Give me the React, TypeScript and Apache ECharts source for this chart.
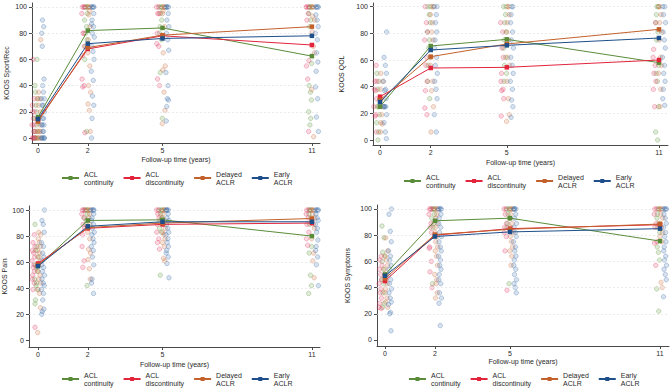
import { useEffect, useRef } from "react";
import * as echarts from "echarts";

// Follow-up time points (years)
const TIMES = [0, 2, 5, 11];
const Y_TICKS = [0, 20, 40, 60, 80, 100];

// Groups: ACL continuity, ACL discontinuity, Delayed ACLR, Early ACLR
const GROUPS = ["ACL\ncontinuity", "ACL\ndiscontinuity", "Delayed\nACLR", "Early\nACLR"];
const LINE_COLORS = ["#5a8c3a", "#e2243c", "#c2612c", "#1f4f8a"];
const DOT_RGB = ["96,150,60", "226,60,100", "204,110,66", "58,110,170"];
// horizontal dodge of each group's dots around the time point, plus a small fixed spread
const GROUP_DODGE = [-0.07, -0.18, 0.05, 0.2];
const SPREAD = [-0.05, 0.03, -0.02, 0.06, -0.04, 0.01, 0.05, -0.06, 0.02, -0.01, 0.04, -0.03];

// ---- KOOS Sport/Rec ----
const SPORT_MEAN_CONT = [16, 82, 84, 62.5];
const SPORT_MEAN_DISC = [13.5, 68, 78, 71];
const SPORT_MEAN_DELAY = [12.5, 69, 78.5, 85];
const SPORT_MEAN_EARLY = [14.5, 72, 76, 78];
const SPORT_PTS_CONT = [
  [0, 0, 0, 5, 5, 10, 15, 15, 20, 25, 30, 35, 40, 60],
  [100, 100, 100, 95, 90, 85, 80, 75, 70, 60, 5],
  [100, 100, 100, 95, 90, 85, 80, 75, 50, 15],
  [100, 100, 100, 95, 90, 85, 57, 40, 35, 29, 20, 15, 10],
];
const SPORT_PTS_DISC = [
  [0, 0, 0, 0, 5, 5, 10, 10, 15, 20, 20, 25, 30, 60],
  [100, 100, 100, 95, 80, 80, 70, 63, 45, 40, 39, 4],
  [100, 100, 95, 95, 80, 72, 70, 45, 40],
  [100, 100, 100, 95, 90, 59, 55, 45, 5],
];
const SPORT_PTS_DELAY = [
  [0, 0, 0, 5, 5, 5, 10, 15, 20, 25, 30, 30, 35, 75],
  [100, 100, 100, 97, 94, 85, 75, 65, 55, 40, 35, 26, 21, 5],
  [100, 100, 100, 97, 95, 85, 65, 55, 52, 35, 21, 11],
  [100, 100, 100, 93, 90, 81, 70, 65, 37, 1],
];
const SPORT_PTS_EARLY = [
  [0, 0, 0, 0, 0, 5, 5, 10, 10, 10, 15, 15, 20, 25, 25, 30, 30, 35, 40, 45, 70, 80, 85, 90],
  [100, 100, 100, 100, 95, 90, 87, 85, 80, 77, 70, 66, 60, 51, 44, 32, 25, 15, 0],
  [100, 100, 100, 100, 95, 90, 85, 80, 75, 67, 50, 40, 30, 29, 24, 13],
  [100, 100, 100, 100, 94, 90, 85, 80, 75, 65, 58, 51, 39, 30, 16, 5],
];

// ---- KOOS QOL ----
const QOL_MEAN_CONT = [25, 70.5, 75.5, 58];
const QOL_MEAN_DISC = [32.5, 54, 54.5, 60];
const QOL_MEAN_DELAY = [30, 62.5, 72, 83];
const QOL_MEAN_EARLY = [28.5, 67.5, 71, 76.5];
const QOL_PTS_CONT = [
  [50, 44, 38, 31, 25, 25, 19, 13, 6, 0],
  [100, 100, 94, 88, 81, 75, 69, 62, 56, 44, 31],
  [100, 100, 94, 88, 81, 75, 69, 62, 56, 50, 44],
  [100, 100, 94, 88, 81, 75, 56, 50, 44, 25, 6, 0],
];
const QOL_PTS_DISC = [
  [56, 44, 44, 38, 37, 31, 25, 19, 18, 6],
  [100, 88, 81, 75, 62, 56, 44, 37, 24, 19],
  [88, 81, 69, 62, 50, 44, 38, 37, 31, 18],
  [88, 68, 62, 56, 50, 44, 38, 25],
];
const QOL_PTS_DELAY = [
  [50, 44, 38, 31, 25, 25, 19, 13, 12, 6],
  [100, 100, 94, 88, 81, 75, 62, 56, 44, 37, 25, 6],
  [100, 100, 94, 88, 81, 75, 62, 56, 44, 31, 19, 14],
  [100, 100, 94, 88, 81, 75, 62, 56, 50, 38, 25],
];
const QOL_PTS_EARLY = [
  [81, 62, 56, 50, 44, 38, 37, 31, 25, 25, 25, 25, 19, 13, 6, 1],
  [100, 100, 94, 88, 81, 75, 69, 62, 56, 50, 44, 38, 31, 19, 6],
  [100, 100, 94, 88, 81, 75, 69, 62, 56, 50, 44, 38, 30, 25, 17],
  [100, 100, 94, 88, 81, 75, 69, 62, 56, 50, 44, 38, 31, 26],
];

// ---- KOOS Pain ----
const PAIN_MEAN_CONT = [57, 92, 92.5, 80];
const PAIN_MEAN_DISC = [59, 86, 89, 90];
const PAIN_MEAN_DELAY = [58, 86.5, 90, 93.5];
const PAIN_MEAN_EARLY = [57, 87.5, 91, 91];
const PAIN_PTS_CONT = [
  [89, 72, 69, 64, 58, 56, 53, 47, 44, 42, 39, 31, 28],
  [100, 100, 100, 97, 94, 92, 89, 42],
  [100, 100, 100, 97, 94, 92, 86, 83, 50],
  [100, 100, 100, 97, 94, 89, 72, 67, 50, 42, 36],
];
const PAIN_PTS_DISC = [
  [81, 75, 72, 69, 67, 64, 61, 58, 56, 53, 50, 47, 44, 39, 10],
  [100, 100, 100, 97, 94, 89, 86, 81, 72, 61, 56],
  [100, 100, 97, 94, 89, 83, 78, 75, 70],
  [100, 100, 97, 94, 89, 83, 78, 73],
];
const PAIN_PTS_DELAY = [
  [83, 81, 78, 75, 72, 69, 67, 64, 61, 58, 53, 50, 47, 44, 39, 36, 25, 6],
  [100, 100, 100, 97, 94, 89, 86, 83, 78, 70, 67, 62, 55, 47],
  [100, 100, 100, 97, 94, 92, 89, 86, 83, 81, 78, 75, 72, 63, 61],
  [100, 100, 100, 97, 94, 92, 89, 86, 78, 67, 61, 48],
];
const PAIN_PTS_EARLY = [
  [100, 92, 89, 83, 75, 72, 67, 64, 61, 58, 56, 53, 50, 47, 44, 42, 39, 36, 31, 24, 22, 20],
  [100, 100, 100, 100, 97, 94, 92, 89, 86, 83, 81, 78, 75, 72, 69, 64, 58, 47, 44, 36],
  [100, 100, 100, 100, 97, 94, 92, 89, 86, 83, 81, 78, 75, 72, 69, 67, 64, 59, 48],
  [100, 100, 100, 100, 97, 94, 92, 89, 86, 83, 77, 72, 69, 64, 58, 42],
];

// ---- KOOS Symptoms ----
const SYMP_MEAN_CONT = [50, 91, 93, 75.5];
const SYMP_MEAN_DISC = [45, 80, 85, 88];
const SYMP_MEAN_DELAY = [47, 80.5, 84.5, 88.5];
const SYMP_MEAN_EARLY = [49, 79, 82.5, 85];
const SYMP_PTS_CONT = [
  [87, 78, 67, 64, 60, 54, 50, 46, 43, 36, 28, 25],
  [100, 100, 100, 96, 93, 89, 86, 79, 43],
  [100, 100, 100, 96, 93, 89, 86, 43],
  [100, 100, 96, 93, 89, 86, 82, 71, 67, 61, 39, 22],
];
const SYMP_PTS_DISC = [
  [64, 61, 57, 54, 50, 46, 43, 39, 36, 32, 28, 25, 24],
  [100, 100, 100, 96, 89, 86, 82, 71, 70, 60, 52, 40],
  [100, 100, 96, 89, 86, 82, 79, 68, 38],
  [100, 100, 96, 89, 86, 75, 74, 57],
];
const SYMP_PTS_DELAY = [
  [78, 68, 64, 61, 57, 54, 50, 46, 43, 39, 36, 32, 29, 25],
  [100, 100, 100, 96, 93, 89, 86, 82, 79, 75, 71, 68, 64, 57, 50, 46, 43, 36, 32],
  [100, 100, 100, 96, 93, 89, 86, 82, 79, 75, 71, 68, 64, 57],
  [100, 100, 100, 96, 93, 89, 86, 82, 79, 75, 44, 40],
];
const SYMP_PTS_EARLY = [
  [100, 96, 83, 75, 68, 64, 61, 57, 54, 50, 46, 43, 39, 36, 32, 29, 27, 21, 20, 7],
  [100, 100, 100, 100, 96, 93, 89, 86, 82, 79, 75, 71, 68, 64, 61, 57, 54, 50, 46, 43, 36, 32, 28, 11],
  [100, 100, 100, 100, 96, 93, 89, 86, 82, 79, 75, 71, 68, 64, 61, 57, 54, 50, 46, 43, 40, 36],
  [100, 100, 100, 100, 96, 93, 89, 86, 82, 79, 75, 71, 68, 64, 61, 57, 54, 50, 46, 33],
];

const FONT = "'Liberation Sans', Arial, sans-serif";
const TEXT = "#2a2a2a";
const AXIS = "#4a4a4a";

const PANELS = [
  {
    title: "KOOS Sport/Rec",
    means: [SPORT_MEAN_CONT, SPORT_MEAN_DISC, SPORT_MEAN_DELAY, SPORT_MEAN_EARLY],
    pts: [SPORT_PTS_CONT, SPORT_PTS_DISC, SPORT_PTS_DELAY, SPORT_PTS_EARLY],
    grid: { left: 32, top: 3, width: 288, height: 140 },
    x: [-0.241, 11.325], y: [-3.8, 103.05], yGap: 22, xGap: 13, legend: { left: 61, top: 170 },
  },
  {
    title: "KOOS QOL",
    means: [QOL_MEAN_CONT, QOL_MEAN_DISC, QOL_MEAN_DELAY, QOL_MEAN_EARLY],
    pts: [QOL_PTS_CONT, QOL_PTS_DISC, QOL_PTS_DELAY, QOL_PTS_EARLY],
    grid: { left: 373, top: 3, width: 295, height: 142 },
    x: [-0.276, 11.356], y: [-3.75, 102.75], yGap: 28, xGap: 14, legend: { left: 403, top: 173 },
  },
  {
    title: "KOOS Pain",
    means: [PAIN_MEAN_CONT, PAIN_MEAN_DISC, PAIN_MEAN_DELAY, PAIN_MEAN_EARLY],
    pts: [PAIN_PTS_CONT, PAIN_PTS_DISC, PAIN_PTS_DELAY, PAIN_PTS_EARLY],
    grid: { left: 29, top: 206, width: 291, height: 141 },
    x: [-0.361, 11.325], y: [-5.1, 103.1], yGap: 20, xGap: 14, legend: { left: 61, top: 371 },
  },
  {
    title: "KOOS Symptoms",
    means: [SYMP_MEAN_CONT, SYMP_MEAN_DISC, SYMP_MEAN_DELAY, SYMP_MEAN_EARLY],
    pts: [SYMP_PTS_CONT, SYMP_PTS_DISC, SYMP_PTS_DELAY, SYMP_PTS_EARLY],
    grid: { left: 377, top: 205, width: 292, height: 141 },
    x: [-0.32, 11.36], y: [-4.6, 103.05], yGap: 26, xGap: 11, legend: { left: 408, top: 371 },
  },
];

function buildOption() {
  const grid: any[] = [];
  const xAxis: any[] = [];
  const yAxis: any[] = [];
  const legend: any[] = [];
  const series: any[] = [];

  PANELS.forEach((p, pi) => {
    grid.push({ ...p.grid, containLabel: false });
    xAxis.push({
      type: "value",
      gridIndex: pi,
      min: p.x[0],
      max: p.x[1],
      name: "Follow-up time (years)",
      nameLocation: "middle",
      nameGap: p.xGap,
      nameTextStyle: { fontSize: 7, color: TEXT, fontFamily: FONT },
      axisLine: { show: true, onZero: false, lineStyle: { color: AXIS, width: 1 } },
      axisTick: { show: true, length: 3, customValues: TIMES, lineStyle: { color: AXIS } },
      axisLabel: { customValues: TIMES, fontSize: 7, color: TEXT, fontFamily: FONT, margin: 4 },
      splitLine: { show: false },
    });
    yAxis.push({
      type: "value",
      gridIndex: pi,
      min: p.y[0],
      max: p.y[1],
      name: p.title,
      nameLocation: "middle",
      nameGap: p.yGap,
      nameTextStyle: { fontSize: 7, color: TEXT, fontFamily: FONT },
      axisLine: { show: true, onZero: false, lineStyle: { color: AXIS, width: 1 } },
      axisTick: { show: true, length: 3, customValues: Y_TICKS, lineStyle: { color: AXIS } },
      axisLabel: { customValues: Y_TICKS, fontSize: 7, color: TEXT, fontFamily: FONT, margin: 5 },
      splitLine: { show: false },
    });
    legend.push({
      data: GROUPS,
      left: p.legend.left,
      top: p.legend.top,
      orient: "horizontal",
      itemGap: 9,
      itemWidth: 17,
      itemHeight: 5,
      padding: 0,
      selectedMode: false,
      textStyle: { fontSize: 7, lineHeight: 8, color: TEXT, fontFamily: FONT },
    });

    // individual observations, dodged per group around each time point
    GROUPS.forEach((g, gi) => {
      const data: number[][] = [];
      p.pts[gi].forEach((vals, ti) => {
        vals.forEach((v, k) => {
          data.push([TIMES[ti] + GROUP_DODGE[gi] + SPREAD[(k + ti * 3 + gi) % SPREAD.length], v]);
        });
      });
      const s: any = {
        type: "scatter",
        name: "obs-" + pi + "-" + gi,
        xAxisIndex: pi,
        yAxisIndex: pi,
        data,
        symbol: "circle",
        symbolSize: 4.5,
        z: 2,
        silent: true,
        itemStyle: {
          color: `rgba(${DOT_RGB[gi]},0.25)`,
          borderColor: `rgba(${DOT_RGB[gi]},0.55)`,
          borderWidth: 0.7,
        },
      };
      if (gi === 0) {
        s.markLine = {
          silent: true,
          symbol: ["none", "none"],
          label: { show: false },
          lineStyle: { color: "#e2e2e2", type: [2, 2], width: 0.7 },
          data: Y_TICKS.filter((v) => v > 0).map((v) => ({ yAxis: v })),
        };
      }
      series.push(s);
    });

    // group means over time
    GROUPS.forEach((g, gi) => {
      series.push({
        type: "line",
        name: g,
        xAxisIndex: pi,
        yAxisIndex: pi,
        data: TIMES.map((t, ti) => [t, p.means[gi][ti]]),
        symbol: "rect",
        symbolSize: 4.5,
        z: 5,
        color: LINE_COLORS[gi],
        lineStyle: { color: LINE_COLORS[gi], width: 1 },
        itemStyle: { color: LINE_COLORS[gi] },
      });
    });
  });

  return {
    animation: false,
    backgroundColor: "#ffffff",
    textStyle: { fontFamily: FONT },
    grid,
    xAxis,
    yAxis,
    legend,
    series,
  };
}

export default function App() {
  const ref = useRef<HTMLDivElement>(null);
  useEffect(() => {
    if (!ref.current) return;
    const chart = echarts.init(ref.current, undefined, { renderer: "svg" });
    chart.setOption(buildOption());
    return () => chart.dispose();
  }, []);
  return (
    <div
      ref={ref}
      style={{ position: "absolute", left: 0, top: 0, width: 672, height: 390, background: "#fff" }}
    />
  );
}
